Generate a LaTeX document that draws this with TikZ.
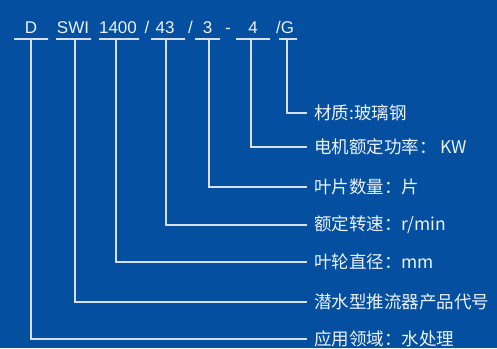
\documentclass[tikz,border=0pt]{standalone}
\usepackage{fontspec}
\setmainfont{Noto Sans CJK SC}
\newfontfamily\codefont{Liberation Sans}
\usetikzlibrary{positioning}
\definecolor{bgBlue}{RGB}{4, 79, 160}
\definecolor{lineGrey}{RGB}{214, 224, 238}
\definecolor{textWhite}{RGB}{236, 242, 250}

\begin{document}
\begin{tikzpicture}[x=1pt,y=-1pt,
                code/.style={inner sep=0pt,anchor=base,text=textWhite,
                             font=\codefont\fontsize{17}{20}\selectfont},
                uline/.style={draw=lineGrey,line width=1.3pt,inner sep=0pt,
                              minimum height=0pt},
                label/.style={anchor=west,inner xsep=7pt,inner ysep=0pt,text=textWhite,
                              font=\fontsize{17.5}{20}\selectfont},
                lead/.style={draw=lineGrey,line width=1.3pt}
            ]
                \fill[bgBlue] (0,0) rectangle (497,348);
                \useasboundingbox (0,0) rectangle (497,348);
                % model code
                \node[code] (cD) at (31,33) {D};
                \node[code] (cSWI) at (73,33) {SWI};
                \node[code] (cDia) at (118,33) {1400};
                \node[code] (sA) at (147,33) {/};
                \node[code] (cSpd) at (165,33) {43};
                \node[code] (sB) at (190.5,33) {/};
                \node[code] (cBld) at (207.5,33) {3};
                \node[code] (sDash) at (228,33) {-};
                \node[code] (cPow) at (253,33) {4};
                \node[code] (cMat) at (285,33) {/G};
                % underlines
                \node[uline,minimum width=34pt] (uD) at (31,39) {};
                \node[uline,minimum width=35pt] (uSWI) at (73.5,39) {};
                \node[uline,minimum width=40pt] (uDia) at (119,39) {};
                \node[uline,minimum width=34pt] (uSpd) at (168,39) {};
                \node[uline,minimum width=25pt] (uBld) at (207.5,39) {};
                \node[uline,minimum width=34pt] (uPow) at (253,39) {};
                \node[uline,minimum width=18pt] (uMat) at (288,39) {};
                % meanings
                \node[label] (lMat) at (307,113) {材质:玻璃钢};
                \node[label] (lPow) at (307,147) {电机额定功率： KW};
                \node[label] (lBld) at (307,187) {叶片数量：片};
                \node[label] (lSpd) at (307,225) {额定转速：r/min};
                \node[label] (lDia) at (307,262) {叶轮直径：mm};
                \node[label] (lSWI) at (307,302) {潜水型推流器产品代号};
                \node[label] (lD) at (307,339) {应用领域：水处理};
                % leaders
                \draw[lead] ([xshift=-1pt]uMat.south) |- (lMat.west);
                \draw[lead] ([xshift=-2pt]uPow.south) |- (lPow.west);
                \draw[lead] ([xshift=1.5pt]uBld.south) |- (lBld.west);
                \draw[lead] ([xshift=-2pt]uSpd.south) |- (lSpd.west);
                \draw[lead] ([xshift=-3pt]uDia.south) |- (lDia.west);
                \draw[lead] ([xshift=1.5pt]uSWI.south) |- (lSWI.west);
                \draw[lead] (uD.south) |- (lD.west);
            \end{tikzpicture}
\end{document}
